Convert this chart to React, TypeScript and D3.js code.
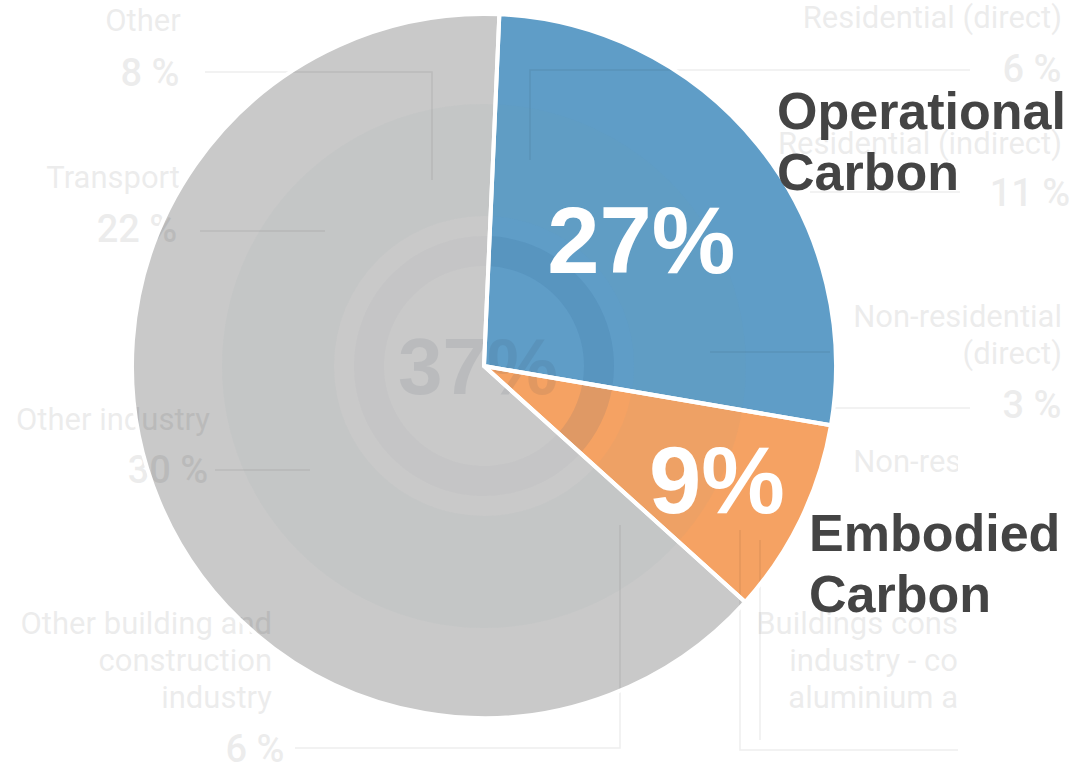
import React from "react";
import * as d3 from "d3";

const categories = ["Operational Carbon", "Embodied Carbon", "Other sectors"];
const values = [27, 9, 64];
const sliceLabels = ["27%", "9%", ""];
const sliceColors = ["#5f9dc7", "#f5a263", "#c9c9c9"];
const calloutLines = [["Operational", "Carbon"], ["Embodied", "Carbon"], []];

// faded background infographic (left and right annotation labels)
const bgNames = [
  "Other", "Transport", "Other industry", "Other building and|construction|industry",
  "Residential (direct)", "Residential (indirect)", "Non-residential|(direct)", "Non-residential|(i",
  "Buildings cons|industry - co|aluminium a",
];
const bgValues = ["8 %", "22 %", "30 %", "6 %", "6 %", "11 %", "3 %", "", ""];

const W = 1074;
const H = 766;
const cx = 484;
const cy = 366;
const R = 352;
const startDeg = 2.5;

export default function App() {
  const pie = d3
    .pie<number>()
    .sort(null)
    .value((d) => d)
    .startAngle((startDeg * Math.PI) / 180)
    .endAngle((startDeg * Math.PI) / 180 + 2 * Math.PI);
  const arcs = pie(values);
  const arc = d3.arc<d3.PieArcDatum<number>>().innerRadius(0).outerRadius(R);
  const labelR = [202, 259, 0];

  const faintFill = "#000";
  const fontBg = "Roboto, 'Liberation Sans', sans-serif";

  // faint background layout (annotation positions)
  const bgPos = [
    { x: 143, y: 31, ax: "middle", vx: 150, vy: 86 },
    { x: 180, y: 188, ax: "end", vx: 137, vy: 242 },
    { x: 210, y: 430, ax: "end", vx: 168, vy: 483 },
    { x: 272, y: 634, ax: "end", vx: 255, vy: 762 },
    { x: 1062, y: 28, ax: "end", vx: 1032, vy: 82 },
    { x: 1062, y: 154, ax: "end", vx: 1030, vy: 206 },
    { x: 1062, y: 327, ax: "end", vx: 1032, vy: 418 },
    { x: 1062, y: 472, ax: "end", vx: 0, vy: 0 },
    { x: 958, y: 634, ax: "end", vx: 0, vy: 0 },
  ];
  const bgLines = [
    "M205,72H432V180",
    "M200,231H325",
    "M215,470H310",
    "M295,748H620V525",
    "M970,70H530V160",
    "M960,192H810",
    "M970,408H835",
    "M830,352H710",
    "M740,530V750H958",
    "M760,540V740",
  ];

  const a0 = arcs[0].startAngle;
  const a1 = arcs[1].endAngle;

  return (
    <svg
      width={W}
      height={H}
      viewBox={`0 0 ${W} ${H}`}
      style={{ position: "absolute", left: 0, top: 0, background: "#fff" }}
    >
      <rect x={0} y={0} width={W} height={H} fill="#fff" />
      <g transform={`translate(${cx},${cy})`}>
        {arcs.map((a, i) => (
          <path key={categories[i]} d={arc(a) || ""} fill={sliceColors[i]} />
        ))}
        {/* faint inner rings from background infographic */}
        <path
          d={d3.arc()({ innerRadius: 150, outerRadius: 262, startAngle: 0, endAngle: 2 * Math.PI }) || ""}
          fill="#7a9aa0"
          opacity={0.05}
        />
        <path
          d={d3.arc()({ innerRadius: 100, outerRadius: 130, startAngle: a0, endAngle: a1 }) || ""}
          fill="#1a4a80"
          opacity={0.1}
        />
        <path
          d={d3.arc()({ innerRadius: 100, outerRadius: 130, startAngle: a1, endAngle: a0 + 2 * Math.PI }) || ""}
          fill="#5a6a70"
          opacity={0.03}
        />
        <text
          x={-6}
          y={28}
          textAnchor="middle"
          fontFamily="'Liberation Sans', Arial, sans-serif"
          fontWeight="bold"
          fontSize={80}
          fill="#2a3a50"
          opacity={0.09}
        >
          37%
        </text>
      </g>
      {/* faint annotation lines */}
      {bgLines.map((d, i) => (
        <path key={"l" + i} d={d} fill="none" stroke="#000" strokeOpacity={0.07} strokeWidth={1.5} />
      ))}
      {/* faint annotation texts */}
      {bgNames.map((name, i) => {
        const p = bgPos[i];
        const lines = name.split("|");
        return (
          <g key={"t" + i}>
            {lines.map((ln, j) => (
              <text
                key={j}
                x={p.x}
                y={p.y + j * 37}
                textAnchor={p.ax as any}
                fontFamily={fontBg}
                fontSize={31}
                fill={faintFill}
                opacity={0.07}
              >
                {ln}
              </text>
            ))}
            {bgValues[i] && (
              <text
                x={p.vx}
                y={p.vy}
                textAnchor="middle"
                fontFamily={fontBg}
                fontWeight={500}
                fontSize={38}
                fill={faintFill}
                opacity={0.07}
              >
                {bgValues[i]}
              </text>
            )}
          </g>
        );
      })}
      <g transform={`translate(${cx},${cy})`}>
        {arcs.map((a, i) => (
          <path
            key={"s" + i}
            d={arc(a) || ""}
            fill="none"
            stroke="#fff"
            strokeWidth={4}
            strokeLinejoin="round"
          />
        ))}
        {arcs.map((a, i) => {
          if (!sliceLabels[i]) return null;
          const c = d3.arc<d3.PieArcDatum<number>>().innerRadius(0).outerRadius(labelR[i] * 2).centroid(a);
          return (
            <text
              key={"p" + i}
              x={c[0]}
              y={c[1]}
              dy="0.36em"
              textAnchor="middle"
              fontFamily="'Liberation Sans', Arial, sans-serif"
              fontWeight="bold"
              fontSize={94}
              fill="#fff"
            >
              {sliceLabels[i]}
            </text>
          );
        })}
      </g>
      {/* white box behind embodied callout */}
      <rect x={958} y={440} width={116} height={326} fill="#fff" />
      {calloutLines.map((lines, i) =>
        lines.length ? (
          <text
            key={"c" + i}
            fontFamily="'Liberation Sans', Arial, sans-serif"
            fontWeight="bold"
            fontSize={52}
            fill="#444"
          >
            {lines.map((ln, j) => (
              <tspan key={j} x={i === 0 ? 777 : 809} y={(i === 0 ? 129 : 551) + j * 61}>
                {ln}
              </tspan>
            ))}
          </text>
        ) : null
      )}
    </svg>
  );
}
